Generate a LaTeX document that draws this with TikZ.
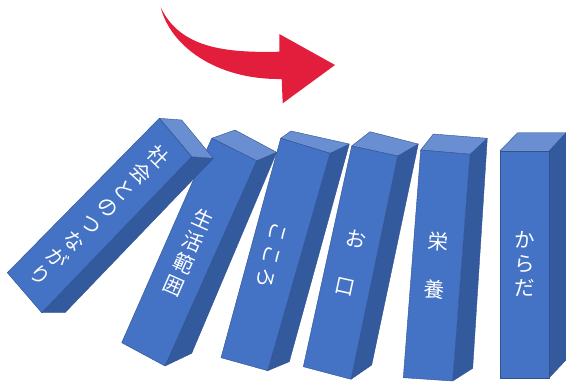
\documentclass[tikz,border=0pt]{standalone}
\usepackage{fontspec}
\newfontfamily\jp{Noto Sans CJK JP}
\definecolor{frontc}{RGB}{68,114,196}
\definecolor{sidec}{RGB}{52,90,158}
\definecolor{topc}{RGB}{105,142,210}
\definecolor{edgec}{RGB}{47,82,143}
\definecolor{arrowred}{RGB}{226,30,60}
\makeatletter
\newcommand\pitch[1]{\@tfor\ch:=#1\do{\makebox[24pt]{\ch}}}
\makeatother
% name, TL, TR, BR, BL, backTL, backTR, backBR
\newcommand\dominoshape[8]{%
  \coordinate (#1tl) at (#2);
  \coordinate (#1tr) at (#3);
  \coordinate (#1br) at (#4);
  \coordinate (#1bl) at (#5);
  \coordinate (#1btl) at (#6);
  \coordinate (#1btr) at (#7);
  \coordinate (#1bbr) at (#8);
  \filldraw[face, fill=sidec] (#1tr) -- (#1btr) -- (#1bbr) -- (#1br) -- cycle;
  \filldraw[face, fill=topc] (#1tl) -- (#1btl) -- (#1btr) -- (#1tr) -- cycle;
  \filldraw[face, fill=frontc] (#1tl) -- (#1tr) -- (#1br) -- (#1bl) -- cycle;
}
\begin{document}
\begin{tikzpicture}[x=1pt,y=-1pt,
  face/.style={draw=edgec, line width=0.4pt, line join=round},
  lbl/.style={text=white, font=\jp\fontsize{20.5}{24}\selectfont, inner sep=0pt, align=center}]
\useasboundingbox (0,0) rectangle (566,383);

% curved arrow
\fill[arrowred] (160.7,7.3) .. controls (180,48) and (225,53) .. (279.3,51.7)
  -- (279.3,34) -- (335,65) -- (282.7,103.3) -- (281.7,79)
  .. controls (215,80) and (170,45) .. (160.7,7.3) -- cycle;

% D6 からだ
\dominoshape{d6}{500,150.7}{549.3,150.7}{549.3,377.7}{500,377.7}{517.7,132.7}{566,132.7}{566,360}
\node[lbl] (t6) at (524.6,264.2) {か\\ら\\だ};

% D5 栄養
\dominoshape{d5}{420.7,150}{470,154.3}{452.7,381}{403.3,377.7}{433.3,134}{487.3,138.3}{472.7,368.3}
\node[lbl, rotate=-4.4] (t5) at (436.2,265.8) {栄\\[24pt]養};

% D4 お口
\dominoshape{d4}{351.7,146}{397.7,156}{351,379.3}{303.3,366.7}{370,131.7}{418.3,144}{371.7,365}
\node[lbl, rotate=-12.4] (t4) at (350.5,263) {お\\[24pt]口};

% D3 こころ
\dominoshape{d3}{280.7,138.3}{330,153.3}{267.7,370.7}{221,357.7}{291,131}{349.3,144}{289.3,361.7}
\node[lbl, rotate=254.8] (t3) at (271.5,255) {\pitch{こころ}};

% D2 生活範囲
\dominoshape{d2}{211.7,138.3}{256.7,160.7}{165,366}{121.7,342.7}{235,130}{276.7,152.3}{191.7,353.3}
\node[lbl, rotate=-23.8] (t2) at (188.6,252.5) {生\\活\\範\\囲};

% D1 社会とのつながり
\dominoshape{d1}{159.3,118.3}{191.7,156.7}{41.7,312.7}{7.3,272.7}{181.7,120}{213.3,158.3}{65,312.7}
\node[lbl, rotate=-44.55] (t1) at (99.7,215.5) {社\\会\\と\\の\\つ\\な\\が\\り};
\end{tikzpicture}
\end{document}
